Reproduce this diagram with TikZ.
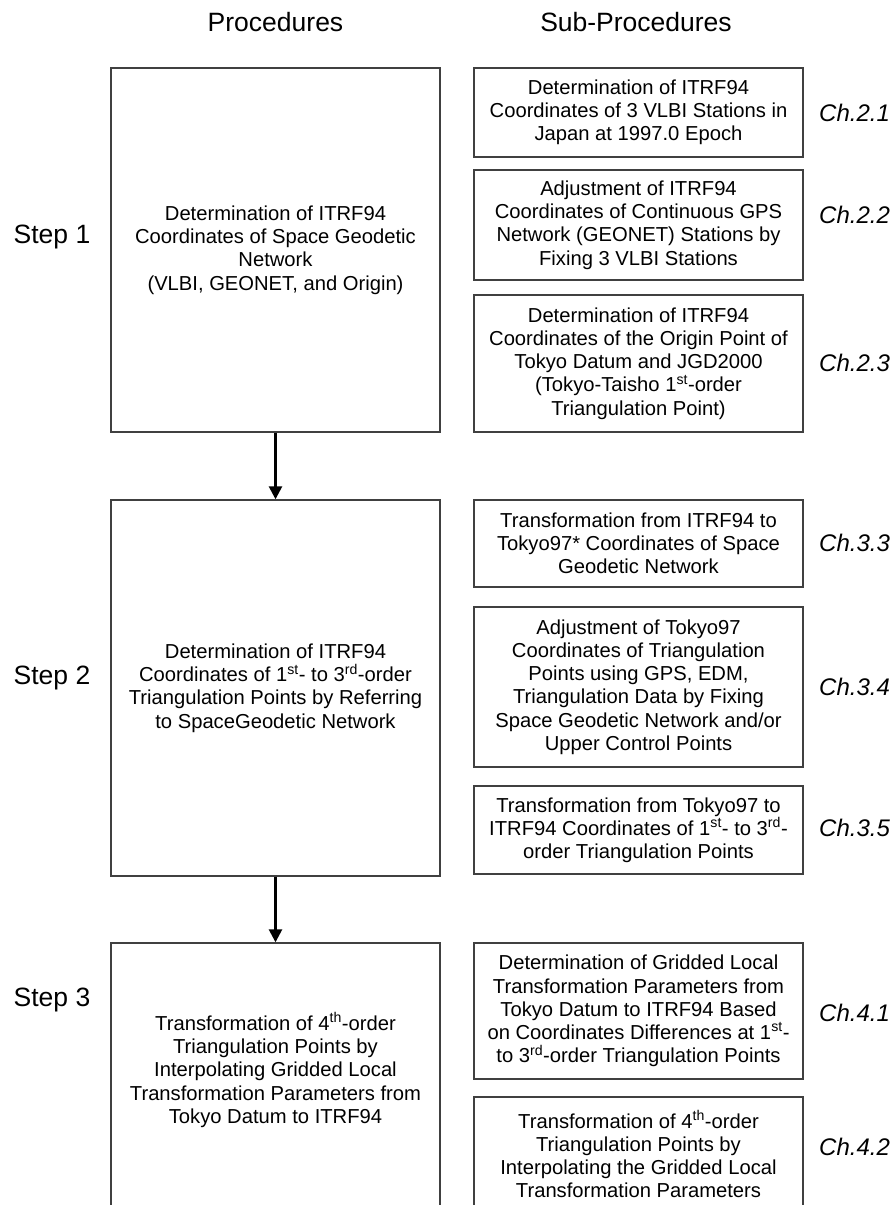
\documentclass[tikz,border=0pt]{standalone}
\usepackage{fontspec}
\setmainfont{Liberation Sans}
\usetikzlibrary{arrows.meta}
\definecolor{boxgray}{HTML}{404040}
\newcommand\bodyfnt{\fontsize{20.2}{23.2}\selectfont}
\newcommand\headfnt{\fontsize{26.5}{30}\selectfont}
\newcommand\chfnt{\fontsize{24}{28}\selectfont\itshape}
\tikzset{
  x=1pt, y=-1pt,
  box/.style={draw=boxgray, line width=1.4pt, minimum width=329pt, inner sep=0pt, align=center, font=\bodyfnt},
  bodytext/.style={align=center, font=\bodyfnt, inner sep=0pt},
  headtext/.style={font=\headfnt, inner sep=0pt},
  chtext/.style={font=\chfnt, inner sep=0pt, anchor=west},
  flow/.style={line width=2.6pt, -{Triangle[width=13pt,length=13pt]}}
}
\begin{document}
\begin{tikzpicture}
\useasboundingbox (0,0) rectangle (894,1205);
\clip (0,0) rectangle (894,1205);
\fill[white] (0,0) rectangle (894,1205);
% headers
\node[headtext] (hp) at (275.5,22) {Procedures};
\node[headtext] (hs) at (636,22) {Sub-Procedures};
% steps
\node[headtext] (st1) at (52,237) {Step 1};
\node[headtext] (st2) at (52,678) {Step 2};
\node[headtext] (st3) at (52,1000) {Step 3};
% procedure boxes
\node[box, minimum height=364pt] (p1) at (275.5,250) {Determination of ITRF94\\Coordinates of Space Geodetic\\Network\\(VLBI, GEONET, and Origin)};
\node[box, minimum height=376pt] (p2) at (275.5,688) {Determination of ITRF94\\Coordinates of 1\textsuperscript{st}- to 3\textsuperscript{rd}-order\\Triangulation Points by Referring\\to SpaceGeodetic Network};
\node[box, minimum height=272pt] (p3) at (275.5,1079) {};
\node[bodytext] (p3t) at (275.5,1070) {Transformation of 4\textsuperscript{th}-order\\Triangulation Points by\\Interpolating Gridded Local\\Transformation Parameters from\\Tokyo Datum to ITRF94};
% sub-procedure boxes
\node[box, minimum height=89pt] (s1) at (638.5,112.5) {Determination of ITRF94\\Coordinates of 3 VLBI Stations in\\Japan at 1997.0 Epoch};
\node[box, minimum height=110pt] (s2) at (638.5,225) {Adjustment of ITRF94\\Coordinates of Continuous GPS\\Network (GEONET) Stations by\\Fixing 3 VLBI Stations};
\node[box, minimum height=137pt] (s3) at (638.5,363.5) {Determination of ITRF94\\Coordinates of the Origin Point of\\Tokyo Datum and JGD2000\\(Tokyo-Taisho 1\textsuperscript{st}-order\\Triangulation Point)};
\node[box, minimum height=87pt] (s4) at (638.5,543.5) {Transformation from ITRF94 to\\Tokyo97* Coordinates of Space\\Geodetic Network};
\node[box, minimum height=160pt] (s5) at (638.5,687) {Adjustment of Tokyo97\\Coordinates of Triangulation\\Points using GPS, EDM,\\Triangulation Data by Fixing\\Space Geodetic Network and/or\\Upper Control Points};
\node[box, minimum height=88pt] (s6) at (638.5,830) {Transformation from Tokyo97 to\\ITRF94 Coordinates of 1\textsuperscript{st}- to 3\textsuperscript{rd}-\\order Triangulation Points};
\node[box, minimum height=136pt] (s7) at (638.5,1011) {Determination of Gridded Local\\Transformation Parameters from\\Tokyo Datum to ITRF94 Based\\on Coordinates Differences at 1\textsuperscript{st}-\\to 3\textsuperscript{rd}-order Triangulation Points};
\node[box, minimum height=120pt] (s8) at (638.5,1157) {};
\node[bodytext] (s8t) at (638.5,1154) {Transformation of 4\textsuperscript{th}-order\\Triangulation Points by\\Interpolating the Gridded Local\\Transformation Parameters};
% chapter labels
\node[chtext] (c1) at (819,113) {Ch.2.1};
\node[chtext] (c2) at (819,215) {Ch.2.2};
\node[chtext] (c3) at (819,363) {Ch.2.3};
\node[chtext] (c4) at (819,543) {Ch.3.3};
\node[chtext] (c5) at (819,687) {Ch.3.4};
\node[chtext] (c6) at (819,828) {Ch.3.5};
\node[chtext] (c7) at (819,1013) {Ch.4.1};
\node[chtext] (c8) at (819,1147) {Ch.4.2};
% arrows
\draw[flow] (p1.south) -- (p2.north);
\draw[flow] (p2.south) -- (p3.north);
\end{tikzpicture}
\end{document}
